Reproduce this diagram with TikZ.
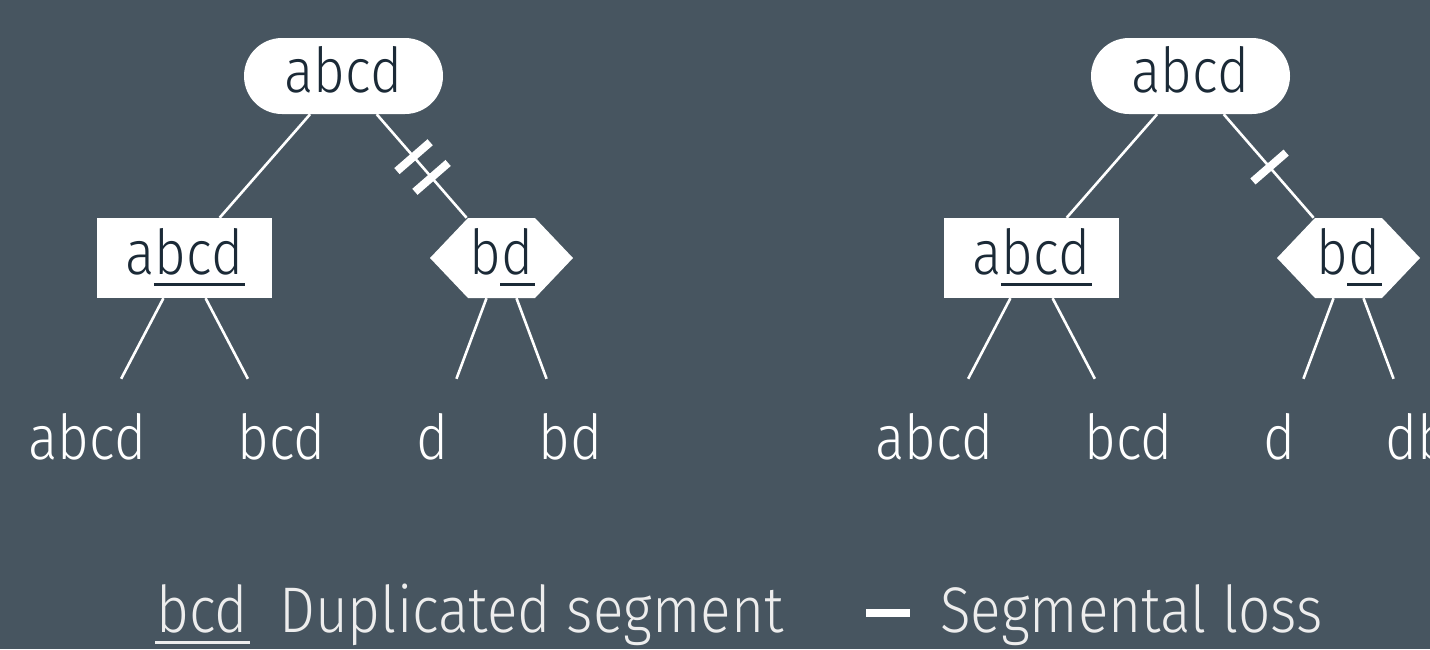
\documentclass[tikz,border=0pt]{standalone}
\usepackage{fontspec}
\setmainfont{Fira Sans Light}[FakeStretch=0.88]
\usetikzlibrary{calc}

\definecolor{slate}{HTML}{475560}
\definecolor{ink}{HTML}{1B2A37}
\definecolor{legendgrey}{HTML}{EDEDED}

% underline used to mark a duplicated segment
\newcommand\dupl[1]{\setbox0\hbox{#1}\rlap{\kern-1pt\rule[-11.5pt]{\dimexpr\wd0+3pt\relax}{3pt}}\box0}

\tikzset{
  treefont/.style={font=\fontsize{62}{70}\selectfont},
  edge/.style={draw=white, line width=2.6pt},
  pill/.style={treefont, rectangle, rounded corners=38pt, fill=white, text=ink,
    minimum width=199pt, minimum height=76pt, inner sep=0pt,
    text height=32pt, text depth=0pt},
  box/.style={treefont, rectangle, fill=white, text=ink,
    minimum width=175pt, minimum height=80pt, inner sep=0pt,
    text height=32pt, text depth=0pt},
  hexa/.style={treefont, rectangle, text=ink,
    minimum width=143pt, minimum height=80pt, inner sep=0pt,
    text height=32pt, text depth=0pt,
    path picture={\fill[white]
      ($(path picture bounding box.north west)+(38pt,0)$) --
      ($(path picture bounding box.north east)+(-38pt,0)$) --
      (path picture bounding box.east) --
      ($(path picture bounding box.south east)+(-38pt,0)$) --
      ($(path picture bounding box.south west)+(38pt,0)$) --
      (path picture bounding box.west) -- cycle;}},
  leaf/.style={treefont, text=white, minimum width=120pt, minimum height=128pt,
    inner sep=0pt, text height=32pt, text depth=0pt},
  tick/.style={sloped, rectangle, fill=white, inner sep=0pt,
    minimum width=8pt, minimum height=44pt},
  legend/.style={font=\fontsize{64.5}{70}\selectfont, text=legendgrey,
    inner sep=0pt, anchor=base west},
}

\begin{document}
\begin{tikzpicture}[x=1pt, y=-1pt]
  \fill[slate] (0,0) rectangle (1430,649);
  \useasboundingbox (0,0) rectangle (1430,649);
  \clip (0,0) rectangle (1430,649);

  % first tree: two losses on the right branch
  \node[pill] (r1) at (343.5,76) {abcd};
  \node[box]  (a1) at (184.5,258) {a\dupl{bcd}};
  \node[hexa] (h1) at (501.5,258) {b\dupl{d}};
  \node[leaf] (l11) at (87.5,443) {abcd};
  \node[leaf] (l12) at (281.5,443) {bcd};
  \node[leaf] (l13) at (432.5,443) {d};
  \node[leaf] (l14) at (570.5,443) {bd};

  \draw[edge] (r1) -- (a1);
  \draw[edge] (r1) -- (h1) node[tick, pos=0.41] {} node[tick, pos=0.61] {};
  \draw[edge] (a1) -- (l11);
  \draw[edge] (a1) -- (l12);
  \draw[edge] (h1) -- (l13);
  \draw[edge] (h1) -- (l14);

  % second tree: a single loss on the right branch
  \node[pill] (r2) at (1190.5,76) {abcd};
  \node[box]  (a2) at (1031.5,258) {a\dupl{bcd}};
  \node[hexa] (h2) at (1348.5,258) {b\dupl{d}};
  \node[leaf] (l21) at (934.5,443) {abcd};
  \node[leaf] (l22) at (1128.5,443) {bcd};
  \node[leaf] (l23) at (1279.5,443) {d};
  \node[leaf] (l24) at (1417.5,443) {db};

  \draw[edge] (r2) -- (a2);
  \draw[edge] (r2) -- (h2) node[tick, pos=0.51] {};
  \draw[edge] (a2) -- (l21);
  \draw[edge] (a2) -- (l22);
  \draw[edge] (h2) -- (l23);
  \draw[edge] (h2) -- (l24);

  % key
  \node[legend] (kdup) at (156,632) {\dupl{bcd}};
  \node[legend] (kduptext) at (279,632) {Duplicated segment};
  \fill[white] (866,609) rectangle (910,617);
  \node[legend] (klosstext) at (940,632) {Segmental loss};
\end{tikzpicture}
\end{document}
